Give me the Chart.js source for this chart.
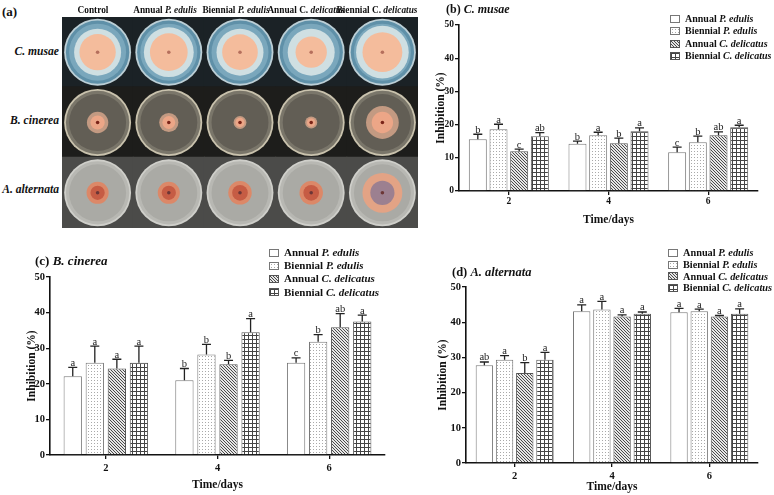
<!DOCTYPE html>
<html><head><meta charset="utf-8">
<script src="https://cdn.jsdelivr.net/npm/chart.js@4.4.1/dist/chart.umd.min.js"></script>
<style>
html,body{margin:0;padding:0;background:#fff}
body{width:774px;height:495px;position:relative;overflow:hidden;font-family:"Liberation Serif","Times New Roman",serif;color:#111}
.t{position:absolute;white-space:nowrap;font-weight:bold;line-height:1}
.leg{position:absolute;font-weight:bold;white-space:nowrap}
.leg div{display:flex;align-items:center}
.sw{display:inline-block;width:10px;height:8px;border:1px solid #555;margin-right:5px;box-sizing:border-box;background-color:#fff}
canvas{position:absolute;display:block}
</style></head><body>

<canvas id="ca" width="356" height="211" style="left:62px;top:17px"></canvas>
<canvas id="cb" width="354" height="235" style="left:420px;top:0px"></canvas>
<canvas id="cc" width="400" height="260" style="left:0px;top:235px"></canvas>
<canvas id="cd" width="374" height="260" style="left:400px;top:235px"></canvas>

<div class="t" style="left:2px;top:5px;font-size:13px">(a)</div>
<div class="t" style="left:446px;top:3px;font-size:12px">(b) <i>C. musae</i></div>
<div class="t" style="left:35px;top:254px;font-size:13px">(c) <i>B. cinerea</i></div>
<div class="t" style="left:452px;top:266px;font-size:12.5px">(d) <i>A. alternata</i></div>

<div id="colLabels"></div>
<div id="rowLabels"></div>
<div id="legB" class="leg" style="left:670px;top:13px;font-size:10px;line-height:12.3px"></div>
<div id="legC" class="leg" style="left:269px;top:246px;font-size:11px;line-height:13.2px"></div>
<div id="legD" class="leg" style="left:668px;top:247px;font-size:10.3px;line-height:11.8px"></div>

<script>
// ---------- data ----------
const days = ['2', '4', '6'];
const seriesNames = ['Annual <i>P. edulis</i>', 'Biennial <i>P. edulis</i>', 'Annual <i>C. delicatus</i>', 'Biennial <i>C. delicatus</i>'];
const yTicksMax = 50;

// (b) C. musae  — one row per series, one value per day
const musaeMean = [[15.6, 14.2, 11.7], [18.6, 16.8, 14.7], [12.0, 14.4, 16.8], [16.5, 18.0, 19.2]];
const musaeErr = [[1.5, 0.8, 1.5], [1.5, 0.9, 1.8], [0.6, 1.5, 1.0], [1.1, 1.0, 0.6]];
const musaeLetters = [['b', 'b', 'c'], ['a', 'a', 'b'], ['c', 'b', 'ab'], ['ab', 'a', 'a']];

// (c) B. cinerea
const cinereaMean = [[22.1, 21.0, 25.9], [25.9, 28.2, 31.8], [24.3, 25.5, 35.9], [25.9, 34.5, 37.5]];
const cinereaErr = [[2.5, 3.3, 1.4], [4.7, 2.9, 2.0], [2.6, 1.1, 3.8], [4.7, 3.8, 1.8]];
const cinereaLetters = [['a', 'b', 'c'], ['a', 'b', 'b'], ['a', 'b', 'ab'], ['a', 'a', 'a']];

// (d) A. alternata
const alternataMean = [[27.8, 43.1, 42.8], [29.3, 43.6, 43.1], [25.6, 41.6, 41.6], [29.3, 42.4, 42.4]];
const alternataErr = [[0.9, 1.8, 1.1], [1.2, 2.3, 0.6], [2.9, 0.5, 0.3], [2.1, 0.5, 1.4]];
const alternataLetters = [['ab', 'a', 'a'], ['a', 'a', 'a'], ['b', 'a', 'a'], ['a', 'a', 'a']];

// (a) photo panel: column / row headings and colony sizes (fraction of plate cell width)
const plateColumns = ['Control', 'Annual <i>P. edulis</i>', 'Biennial <i>P. edulis</i>', 'Annual C. <i>delicatus</i>', 'Biennial C. <i>delicatus</i>'];
const plateRows = ['C. musae', 'B. cinerea', 'A. alternata'];
const musaeHalo = [0.66, 0.70, 0.66, 0.66, 0.74];
const musaeColony = [0.51, 0.53, 0.50, 0.44, 0.56];
const cinereaHalo = [0.30, 0.27, 0.18, 0.17, 0.46];
const cinereaColony = [0.20, 0.18, 0.13, 0.12, 0.30];
const alternataHalo = [0.31, 0.31, 0.33, 0.33, 0.56];
const alternataColony = [0.20, 0.20, 0.22, 0.22, 0.34];

// ---------- styling helpers ----------
const SERIF = '"Liberation Serif", "Times New Roman", serif';
function tile(kind) {
  const c = document.createElement('canvas');
  const g = c.getContext('2d');
  if (kind === 'dots') {
    c.width = c.height = 3; g.fillStyle = '#fff'; g.fillRect(0, 0, 3, 3);
    g.fillStyle = '#a9a9a9'; g.fillRect(1, 1, 1, 1);
  } else if (kind === 'diag') {
    c.width = c.height = 3; g.fillStyle = '#e6e6e6'; g.fillRect(0, 0, 3, 3);
    g.fillStyle = '#4a4a4a'; for (let i = 0; i < 3; i++) g.fillRect(i, i, 1, 1);
  } else if (kind === 'grid') {
    c.width = c.height = 4; g.fillStyle = '#fff'; g.fillRect(0, 0, 4, 4);
    g.fillStyle = '#454545'; g.fillRect(0, 0, 4, 1); g.fillRect(0, 0, 1, 4);
  } else {
    c.width = c.height = 2; g.fillStyle = '#fff'; g.fillRect(0, 0, 2, 2);
  }
  return c;
}
const tiles = [tile('white'), tile('dots'), tile('diag'), tile('grid')];
const borderCols = ['#777', '#777', '#555', '#555'];

// legends (HTML)
function buildLegend(id) {
  const el = document.getElementById(id);
  seriesNames.forEach((n, i) => {
    const row = document.createElement('div');
    const sw = document.createElement('span');
    sw.className = 'sw';
    sw.style.backgroundImage = 'url(' + tiles[i].toDataURL() + ')';
    sw.style.borderColor = borderCols[i];
    row.appendChild(sw);
    const tx = document.createElement('span');
    tx.innerHTML = n;
    row.appendChild(tx);
    el.appendChild(row);
  });
}
buildLegend('legB'); buildLegend('legC'); buildLegend('legD');

// photo headings
(function () {
  const cl = document.getElementById('colLabels');
  const centers = [93, 165, 236, 306, 377];
  plateColumns.forEach((t, i) => {
    const d = document.createElement('div');
    d.className = 't';
    d.style.cssText = 'font-size:9.3px;top:6px;left:' + centers[i] + 'px;transform:translateX(-50%)';
    d.innerHTML = t;
    cl.appendChild(d);
  });
  const rl = document.getElementById('rowLabels');
  const ys = [52, 121, 190];
  plateRows.forEach((t, i) => {
    const d = document.createElement('div');
    d.className = 't';
    d.style.cssText = 'font-size:11.6px;font-style:italic;right:' + (774 - 59) + 'px;top:' + (ys[i] - 6) + 'px';
    d.textContent = t;
    rl.appendChild(d);
  });
})();

// ---------- error bars + letters ----------
const errPlugin = {
  id: 'errbars',
  afterDatasetsDraw(chart) {
    const { ctx } = chart;
    const ys = chart.scales.y;
    chart.data.datasets.forEach((ds, di) => {
      const meta = chart.getDatasetMeta(di);
      meta.data.forEach((bar, i) => {
        const top = ys.getPixelForValue(ds.data[i] + ds.err[i]);
        ctx.save();
        ctx.strokeStyle = '#222';
        ctx.lineWidth = 1.3;
        ctx.beginPath();
        ctx.moveTo(bar.x, bar.y);
        ctx.lineTo(bar.x, top);
        ctx.moveTo(bar.x - 4.5, top);
        ctx.lineTo(bar.x + 4.5, top);
        ctx.stroke();
        ctx.fillStyle = '#222';
        ctx.font = '10.5px ' + SERIF;
        ctx.textAlign = 'center';
        ctx.textBaseline = 'alphabetic';
        ctx.fillText(ds.letters[i], bar.x, top - 1.5);
        ctx.restore();
      });
    });
  }
};

function barChart(id, mean, err, letters, L) {
  const cv = document.getElementById(id);
  const g = cv.getContext('2d');
  const datasets = mean.map((m, i) => ({
    label: seriesNames[i].replace(/<\/?i>/g, ''),
    data: m,
    err: err[i],
    letters: letters[i],
    backgroundColor: g.createPattern(tiles[i], 'repeat'),
    borderColor: borderCols[i],
    borderWidth: 1,
    categoryPercentage: L.cat,
    barPercentage: L.bar
  }));
  const axisCol = '#111';
  return new Chart(cv, {
    type: 'bar',
    data: { labels: days, datasets },
    plugins: [errPlugin],
    options: {
      responsive: false,
      animation: false,
      devicePixelRatio: 1,
      layout: { padding: { top: L.top, right: L.right, left: 0, bottom: 0 } },
      plugins: { legend: { display: false }, tooltip: { enabled: false }, title: { display: false } },
      scales: {
        x: {
          type: 'category',
          offset: true,
          grid: { display: true, offset: false, drawOnChartArea: false, drawTicks: true, tickLength: 4, color: axisCol, lineWidth: 1.3 },
          border: { display: true, color: axisCol, width: 1.6 },
          ticks: { color: axisCol, font: { family: SERIF, size: L.tick, weight: 'bold' }, padding: L.xtp, maxRotation: 0 },
          title: { display: true, text: 'Time/days', color: axisCol, font: { family: SERIF, size: 11.5, weight: 'bold' }, padding: { top: 0, bottom: L.xtitle } },
          afterFit(s) { s.height = L.xh; }
        },
        y: {
          min: 0, max: yTicksMax,
          grid: { display: true, drawOnChartArea: false, drawTicks: true, tickLength: 4, color: axisCol, lineWidth: 1.3 },
          border: { display: true, color: axisCol, width: 1.6 },
          ticks: { stepSize: 10, color: axisCol, font: { family: SERIF, size: L.tick, weight: 'bold' }, padding: 1 },
          title: { display: true, text: 'Inhibition (%)', color: axisCol, font: { family: SERIF, size: 11.5, weight: 'bold' }, padding: { top: L.ytitle, bottom: 0 } },
          afterFit(s) { s.width = L.yw; }
        }
      }
    }
  });
}

barChart('cb', musaeMean, musaeErr, musaeLetters, { top: 25, right: 16, yw: 39, xh: 44, tick: 9.5, xtp: 1, xtitle: 8, ytitle: 14, cat: 0.83, bar: 0.87 });
barChart('cc', cinereaMean, cinereaErr, cinereaLetters, { top: 42, right: 15, yw: 50, xh: 40, tick: 10.5, xtp: 2.5, xtitle: 3.5, ytitle: 25, cat: 0.79, bar: 0.83 });
barChart('cd', alternataMean, alternataErr, alternataLetters, { top: 52, right: 16, yw: 66, xh: 32, tick: 10.5, xtp: 2.5, xtitle: 1.5, ytitle: 36, cat: 0.83, bar: 0.86 });

// ---------- (a) plate photographs, drawn as concentric points ----------
(function () {
  const rowsHalo = [musaeHalo, cinereaHalo, alternataHalo];
  const rowsColony = [musaeColony, cinereaColony, alternataColony];
  const bgCol = ['#1b2226', '#1d1d1b', '#4b4b49'];
  const rimCol = ['#bccfd6', '#c9c2ad', '#cfcfca'];
  const agarOuterCol = ['#5f90a8', '#7a766a', '#b8b8b3'];
  const agarCol = ['#7aa7bc', '#625e55', '#aaaaa5'];
  const haloCol = ['#cfdfe2', '#c39a82', '#dc8868'];
  const colonyCol = ['#f4bc9c', '#eca687', '#c65c44'];
  const dotCol = ['#b56f5c', '#7a2418', '#6c3636'];
  const pts = [];
  for (let r = 0; r < 3; r++) for (let c = 0; c < 5; c++) pts.push({ x: c + 0.5, y: r + 0.5, r, c });
  const unit = (ctx) => { const xs = ctx.chart.scales.x; return xs.getPixelForValue(1) - xs.getPixelForValue(0); };
  let ord = 10;
  const layer = (label, radiusFn, colorFn, style) => ({
    label, data: pts, pointStyle: style || 'circle', order: ord--,
    pointRadius: (ctx) => radiusFn(ctx.raw, unit(ctx)),
    pointBackgroundColor: (ctx) => colorFn(ctx.raw),
    pointBorderWidth: 0, pointHoverRadius: 0
  });
  const special = (p, a, b) => (p.r === 2 && p.c === 4) ? a : b;
  new Chart(document.getElementById('ca'), {
    type: 'scatter',
    data: {
      datasets: [
        layer('cell', (p, u) => (u + 1.2) / Math.SQRT2, (p) => bgCol[p.r], 'rect'),
        layer('rim', (p, u) => u * 0.47, (p) => rimCol[p.r]),
        layer('agar-edge', (p, u) => u * 0.445, (p) => agarOuterCol[p.r]),
        layer('agar', (p, u) => u * 0.40, (p) => agarCol[p.r]),
        layer('halo', (p, u) => u * rowsHalo[p.r][p.c] / 2, (p) => special(p, '#e3a385', haloCol[p.r])),
        layer('colony', (p, u) => u * rowsColony[p.r][p.c] / 2, (p) => special(p, '#9c8090', colonyCol[p.r])),
        layer('centre', (p, u) => u * 0.025, (p) => dotCol[p.r])
      ]
    },
    options: {
      responsive: false, animation: false, devicePixelRatio: 1,
      layout: { padding: 0 },
      plugins: { legend: { display: false }, tooltip: { enabled: false } },
      scales: {
        x: { type: 'linear', min: 0, max: 5, display: false },
        y: { type: 'linear', min: 0, max: 3, reverse: true, display: false }
      }
    }
  });
})();
</script>
</body></html>
